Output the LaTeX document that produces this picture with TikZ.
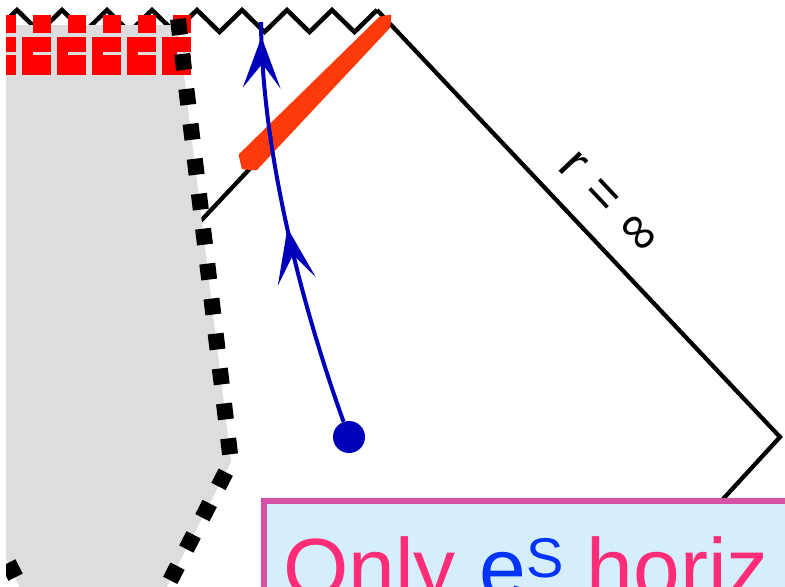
\documentclass[tikz,border=0pt]{standalone}
\usepackage{fontspec}
\setmainfont{Liberation Sans}
\usetikzlibrary{calc}
\definecolor{ink}{HTML}{000000}
\definecolor{slab}{HTML}{DCDDDF}
\definecolor{brick}{HTML}{FF0000}
\definecolor{flame}{HTML}{FF3A0A}
\definecolor{traj}{HTML}{0000BB}
\definecolor{frame}{HTML}{D651A3}
\definecolor{sky}{HTML}{D5EEFB}
\definecolor{hot}{HTML}{FF2D78}
\definecolor{eblue}{HTML}{0033FF}
\tikzset{
  bdry/.style={draw=ink,line width=3.2pt},
  sing/.style={draw=ink,line width=3.4pt,line join=miter},
  excised/.style={fill=slab},
  cutoff/.style={draw=ink,line width=12pt,dash pattern=on 12pt off 14.4pt},
  brick/.style={fill=brick},
  scribble/.style={fill=flame,draw=flame,line width=2pt,line join=round},
  worldline/.style={draw=traj,line width=3pt},
  headfill/.style={fill=traj,draw=traj,line width=1.6pt,line join=miter},
  particle/.style={circle,fill=traj,inner sep=0pt,minimum size=24pt},
  msgbox/.style={draw=frame,line width=4.5pt,fill=sky,minimum width=420pt,minimum height=120pt,anchor=north west,inner sep=0pt},
  msgtext/.style={font=\fontsize{63}{70}\selectfont,text=hot,inner sep=0pt,anchor=base west},
  rlabel/.style={font=\fontsize{40}{46}\selectfont,text=ink,inner sep=0pt},
}

\begin{document}
\begin{tikzpicture}[x=0.75pt,y=-0.75pt]
\useasboundingbox (0,0) rectangle (785,586);
\fill[white] (0,0) rectangle (785,586);
\begin{scope}
\clip (6,0) rectangle (785,586);

% corners of the diagram
\coordinate (apex) at (377,10);
\coordinate (rcorner) at (780,437);
\coordinate (rfoot) at (690,535);
\coordinate (lfoot) at (196,226);
\coordinate (meet) at (388,21.7);

% singularity
\draw[sing] (-6,32) \foreach \k in {0,...,7} {-- ({17+45*\k},10) -- ({39.5+45*\k},32)} -- (apex);

% null boundaries
\draw[bdry] (apex) -- (rcorner) -- (rfoot);
\draw[bdry] (lfoot) -- (meet);
\node[rlabel,rotate=-46.7] (rinf) at (609,203) {r \hspace{2pt}=\hspace{2pt} ∞};

% excised region
\fill[excised] (6,25) -- (178,25) -- (231,462) -- (155,610) -- (30,610) -- (6,558) -- cycle;
\fill[brick] (6,15) rectangle (16,33);
\fill[brick] (6,37) rectangle (16,75);
\foreach \k in {0,...,4} {
  \fill[brick] ({33+35*\k},15) rectangle ({51+35*\k},33);
  \fill[brick] ({22+35*\k},37) rectangle ({51+35*\k},75);
  \fill[slab] ({33+35*\k},52) rectangle ({51+35*\k},54.5);
}
\fill[slab] (6,52) rectangle (16,54.5);
\fill[brick] (163,52) rectangle (177,75);
\draw[cutoff] (178,19) -- (231,462) -- (155,610);
\draw[cutoff] (8.3,562.9) -- (40,625);

% shock
\fill[scribble] (240,155) -- (380,18) -- (390,16) -- (389,27) -- (256,169) -- (243,168) -- cycle;

% infalling observer
\node[particle] (dot) at (349,437) {};
\coordinate (wtop) at (261,22);
\draw[worldline] (dot) .. controls (300,300) and (262,150) .. (wtop);
% arrow heads
\coordinate (midtip) at (288,231);
\fill[headfill] (midtip) -- (280,279) -- (292.8,253) -- (311,271) -- cycle;
\coordinate (toptip) at (261.5,40);
\fill[headfill] (toptip) -- (246,82) -- (262.3,62) -- (277,82) -- cycle;

% caption box
\node[msgbox] (msg) at (261,498) {};
\node[msgtext] (msgline) at ($(msg.north west)+(22,99)$) {Only {\color{eblue}e\raisebox{15pt}{\fontsize{42}{42}\selectfont S}} horiz};
\end{scope}
\end{tikzpicture}
\end{document}
